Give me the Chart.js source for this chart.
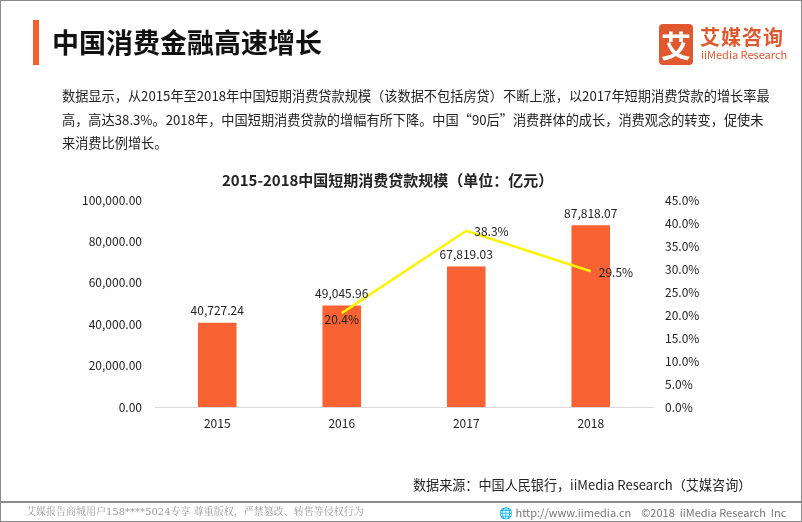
<!DOCTYPE html>
<html><head><meta charset="utf-8">
<script src="https://cdn.jsdelivr.net/npm/chart.js@4"></script>
<style>
html,body{margin:0;padding:0;background:#fff;}
body{width:802px;height:522px;position:relative;overflow:hidden;font-family:"Noto Sans CJK SC","Noto Sans",sans-serif;}
#c{position:absolute;left:0;top:0;}
.abs{position:absolute;white-space:nowrap;}
#frame{position:absolute;left:0;top:0;width:800px;height:520px;border:1px solid #8a8a8a;pointer-events:none;}
#footline{position:absolute;left:0;top:501px;width:802px;height:2px;background:#8a8a8a;}
</style></head>
<body>
<canvas id="c" width="802" height="522"></canvas>
<div id="frame"></div>
<div class="abs" style="left:33px;top:20px;width:6px;height:45px;background:#F5602F;"></div>
<div class="abs" style="left:52px;top:24px;font-size:27px;font-weight:bold;color:#111;line-height:36px;">中国消费金融高速增长</div>
<div class="abs" style="left:659px;top:24px;width:34px;height:41px;background:#E0582F;border-radius:4px;color:#fff;font-size:30px;font-weight:bold;line-height:41px;text-align:center;">艾</div>
<div class="abs" style="left:700px;top:24px;font-size:20px;color:#E0582F;line-height:26px;font-weight:bold;letter-spacing:1px;">艾媒咨询</div>
<div class="abs" style="left:701px;top:48px;font-size:11px;color:#E0582F;line-height:12px;">iiMedia Research</div>
<div class="abs" style="left:62px;top:84px;font-size:13.2px;color:#222;line-height:23.5px;">数据显示，从2015年至2018年中国短期消费贷款规模（该数据不包括房贷）不断上涨，以2017年短期消费贷款的增长率最<br>高，高达38.3%。2018年，中国短期消费贷款的增幅有所下降。中国“90后”消费群体的成长，消费观念的转变，促使未<br>来消费比例增长。</div>
<div class="abs" style="left:222px;top:169px;font-size:15px;font-weight:bold;color:#222;line-height:22px;">2015-2018中国短期消费贷款规模（单位：亿元）</div>
<div class="abs" style="left:413px;top:475px;font-size:13.1px;color:#222;line-height:20px;">数据来源：中国人民银行，iiMedia Research（艾媒咨询）</div>
<div id="footline"></div>
<div class="abs" style="left:26px;top:504px;font-size:10px;color:#999;line-height:16px;font-family:'DejaVu Serif','Noto Serif CJK SC',serif;">艾媒报告商城用户158****5024专享 尊重版权，严禁篡改、转售等侵权行为</div>
<div class="abs" style="left:499px;top:504px;font-size:11px;color:#777;line-height:16px;">🌐 http://www.iimedia.cn &nbsp;&nbsp; ©2018 &nbsp;iiMedia Research &nbsp;Inc</div>
<script>
const categories = ["2015","2016","2017","2018"];
const loanValues = [40727.24, 49045.96, 67819.03, 87818.07];
const growthRates = [null, 20.4, 38.3, 29.5];
const leftTicks = [0,20000,40000,60000,80000,100000];
const rightTicks = [0,5,10,15,20,25,30,35,40,45];

const labelPlugin = {
  id:'labels',
  afterDatasetsDraw(chart){
    const ctx = chart.ctx;
    ctx.save();
    ctx.font = '12px "Noto Sans CJK SC","Noto Sans",sans-serif';
    ctx.fillStyle = '#222';
    const m0 = chart.getDatasetMeta(0);
    m0.data.forEach((el,i)=>{
      ctx.textAlign='center'; ctx.textBaseline='bottom';
      ctx.fillText(loanValues[i].toLocaleString('en-US',{minimumFractionDigits:2,maximumFractionDigits:2}), el.x, el.y-6);
    });
    const m1 = chart.getDatasetMeta(1);
    m1.data.forEach((el,i)=>{
      if(growthRates[i]==null) return;
      const t = growthRates[i].toFixed(1)+'%';
      if(i===1){ ctx.textAlign='center'; ctx.textBaseline='top'; ctx.fillText(t, el.x, el.y); }
      else { ctx.textAlign='left'; ctx.textBaseline='middle'; ctx.fillText(t, el.x+8, el.y+1); }
    });
    ctx.restore();
  }
};

new Chart(document.getElementById('c'), {
  data:{
    labels:categories,
    datasets:[
      {type:'bar', data:loanValues, backgroundColor:'#F96232', yAxisID:'y', barPercentage:0.31, categoryPercentage:1, order:2},
      {type:'line', data:growthRates, borderColor:'#FFF200', borderWidth:2.5, pointRadius:0, yAxisID:'y1', order:1, tension:0}
    ]
  },
  options:{
    responsive:false, animation:false,
    layout:{padding:{top:200,bottom:85,left:0,right:0}},
    plugins:{legend:{display:false},tooltip:{enabled:false}},
    scales:{
      x:{grid:{display:false,drawTicks:false},border:{display:true,color:'#d9d9d9'},
         ticks:{color:'#222',font:{size:12,family:'"Noto Sans CJK SC","Noto Sans",sans-serif'},padding:9},
         afterFit(s){s.height=30;}},
      y:{position:'left',min:0,max:100000,grid:{display:false,drawTicks:false},border:{display:false},
         afterBuildTicks(s){s.ticks=leftTicks.map(v=>({value:v}));},
         ticks:{color:'#222',padding:13,font:{size:12,family:'"Noto Sans CJK SC","Noto Sans",sans-serif'},
           callback:v=>v.toLocaleString('en-US',{minimumFractionDigits:2,maximumFractionDigits:2})},
         afterFit(s){s.width=155;}},
      y1:{position:'right',min:0,max:45,grid:{display:false,drawTicks:false},border:{display:false},
         afterBuildTicks(s){s.ticks=rightTicks.map(v=>({value:v}));},
         ticks:{color:'#222',padding:12,font:{size:12,family:'"Noto Sans CJK SC","Noto Sans",sans-serif'},
           callback:v=>v.toFixed(1)+'%'},
         afterFit(s){s.width=149;}}
    }
  },
  plugins:[labelPlugin]
});
</script>
</body></html>
